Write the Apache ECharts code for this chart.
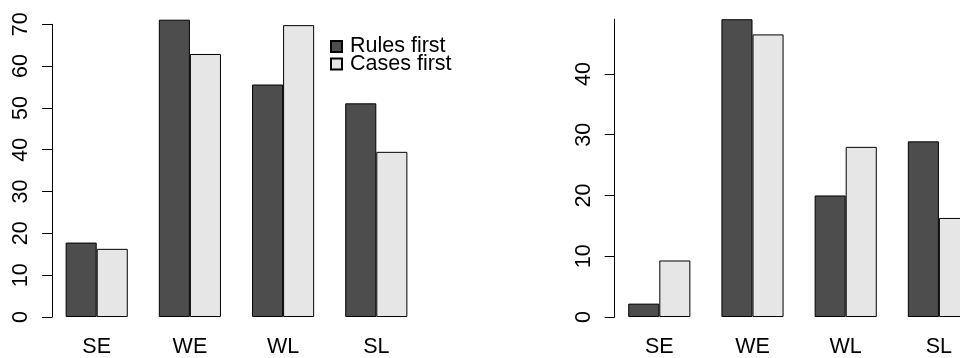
<!DOCTYPE html>
<html>
<head>
<meta charset="utf-8">
<script src="https://cdn.jsdelivr.net/npm/echarts@6/dist/echarts.min.js"></script>
<style>
  html, body { margin: 0; padding: 0; background: #fff; }
  #chart { width: 960px; height: 358px; }
</style>
</head>
<body>
<div id="chart"></div>
<script>
// Error categories shared by both panels
const categories = ['SE', 'WE', 'WL', 'SL'];
const seriesNames = ['Rules first', 'Cases first'];

// Left panel
const leftRules = [17.8, 71.1, 55.6, 51.1];
const leftCases = [16.3, 62.9, 69.8, 39.5];
const leftTicks = [0, 10, 20, 30, 40, 50, 60, 70];

// Right panel
const rightRules = [2.2, 49.0, 20.0, 28.9];
const rightCases = [9.3, 46.5, 28.0, 16.3];
const rightTicks = [0, 10, 20, 30, 40];

const DARK = '#4d4d4d';
const LIGHT = '#e6e6e6';
const FONT = 'Liberation Sans, Arial, Helvetica, sans-serif';
const FS = 21.5;

const chart = echarts.init(document.getElementById('chart'), null, { renderer: 'canvas' });

function xAxisFor(gridIndex) {
  return {
    type: 'category',
    gridIndex,
    data: categories,
    boundaryGap: true,
    axisLine: { show: false },
    axisTick: { show: false },
    axisLabel: { color: '#000', fontFamily: FONT, fontSize: FS, margin: 19 },
    splitLine: { show: false }
  };
}

function yAxisFor(gridIndex, max, ticks) {
  return {
    type: 'value',
    gridIndex,
    min: 0,
    max,
    offset: -2,
    axisLine: { show: true, lineStyle: { color: '#000', width: 1 } },
    axisTick: { show: true, length: 10, customValues: ticks, lineStyle: { color: '#000', width: 1 } },
    axisLabel: {
      customValues: ticks,
      rotate: 90,
      margin: 20,
      color: '#000',
      fontFamily: FONT,
      fontSize: FS
    },
    splitLine: { show: false }
  };
}

function barSeries(name, data, color, axisIndex) {
  return {
    name,
    type: 'bar',
    xAxisIndex: axisIndex,
    yAxisIndex: axisIndex,
    data,
    barWidth: '33.333%',
    barGap: '0%',
    clip: false,
    itemStyle: { color, borderColor: '#000', borderWidth: 1 },
    emphasis: { disabled: true },
    animation: false
  };
}

const rightMax = Math.max(...rightRules, ...rightCases);

chart.setOption({
  backgroundColor: '#fff',
  animation: false,
  grid: [
    { left: 50.1, top: 24.3, width: 372.8, height: 292.7, outerBoundsMode: 'none' },
    { left: 612.7, top: 317 - rightMax * 6.077, width: 372.8, height: rightMax * 6.077, outerBoundsMode: 'none' }
  ],
  xAxis: [xAxisFor(0), xAxisFor(1)],
  yAxis: [yAxisFor(0, 70, leftTicks), yAxisFor(1, rightMax, rightTicks)],
  legend: {
    orient: 'vertical',
    left: 325,
    top: 30.5,
    itemWidth: 11,
    itemHeight: 11,
    itemGap: -4.5,
    icon: 'rect',
    data: seriesNames,
    textStyle: {
      color: '#000',
      fontFamily: FONT,
      fontSize: FS,
      lineHeight: 19,
      padding: [0, 0, 0, 3]
    }
  },
  series: [
    barSeries(seriesNames[0], leftRules, DARK, 0),
    barSeries(seriesNames[1], leftCases, LIGHT, 0),
    barSeries(seriesNames[0], rightRules, DARK, 1),
    barSeries(seriesNames[1], rightCases, LIGHT, 1)
  ]
});
</script>
</body>
</html>
